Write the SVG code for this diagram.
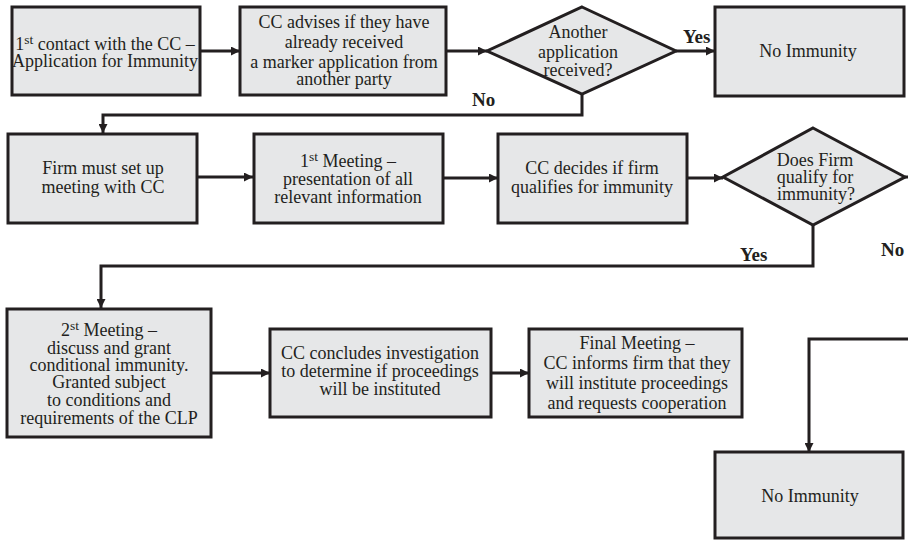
<svg xmlns="http://www.w3.org/2000/svg" width="908" height="540" viewBox="0 0 908 540">
<defs>
<style>
.box{fill:#e6e7e8;stroke:#231f20;stroke-width:3}
.t{font-family:'Liberation Serif','Tinos','DejaVu Serif',serif;font-size:18px;fill:#231f20;text-anchor:middle}
.lbl{font-family:'Liberation Serif','Tinos','DejaVu Serif',serif;font-size:19px;font-weight:bold;fill:#231f20}
.sup{font-size:13.5px}
.c{fill:none;stroke:#231f20;stroke-width:3}
</style>
<marker id="ah" viewBox="0 0 10 10" refX="10" refY="5" markerWidth="9" markerHeight="9" markerUnits="userSpaceOnUse" orient="auto">
<path d="M0,0 L10,5 L0,10 z" fill="#231f20"/>
</marker>
</defs>
<rect width="908" height="540" fill="#ffffff"/>

<g id="connectors">
<line class="c" x1="200" y1="51" x2="240" y2="51" marker-end="url(#ah)"/>
<line class="c" x1="446" y1="51" x2="487" y2="51" marker-end="url(#ah)"/>
<line class="c" x1="676" y1="51" x2="715" y2="51" marker-end="url(#ah)"/>
<polyline class="c" points="582,94 582,115 103,115 103,133" marker-end="url(#ah)"/>
<line class="c" x1="197" y1="177" x2="253" y2="177" marker-end="url(#ah)"/>
<line class="c" x1="443" y1="178" x2="498" y2="178" marker-end="url(#ah)"/>
<line class="c" x1="687" y1="178" x2="723" y2="178" marker-end="url(#ah)"/>
<line class="c" x1="905" y1="177" x2="908" y2="177"/>
<polyline class="c" points="813,225 813,266 101,266 101,308" marker-end="url(#ah)"/>
<line class="c" x1="211" y1="373" x2="270" y2="373" marker-end="url(#ah)"/>
<line class="c" x1="491" y1="373" x2="529" y2="373" marker-end="url(#ah)"/>
<polyline class="c" points="908,339 809,339 809,452" marker-end="url(#ah)"/>
<text class="lbl" x="683" y="43">Yes</text>
<text class="lbl" x="472" y="106">No</text>
<text class="lbl" x="740" y="261">Yes</text>
<text class="lbl" x="881" y="256">No</text>
</g>

<g id="n1">
<rect class="box" x="12" y="7" width="188" height="88"/>
<text class="t" x="105" y="50">1<tspan class="sup" dy="-6">st</tspan><tspan dy="6"> contact with the CC –</tspan></text>
<text class="t" x="105" y="67">Application for Immunity</text>
</g>

<g id="n2">
<rect class="box" x="240" y="7" width="206" height="88"/>
<text class="t" x="344" y="28">CC advises if they have</text>
<text class="t" x="344" y="48">already received</text>
<text class="t" x="344" y="68">a marker application from</text>
<text class="t" x="344" y="85">another party</text>
</g>

<g id="d1">
<polygon class="box" points="582,7 676,51 582,94 487,51"/>
<text class="t" x="578" y="38">Another</text>
<text class="t" x="578" y="58">application</text>
<text class="t" x="578" y="76">received?</text>
</g>

<g id="n3">
<rect class="box" x="715" y="7" width="189" height="89"/>
<text class="t" x="808" y="57">No Immunity</text>
</g>

<g id="n4">
<rect class="box" x="8" y="134" width="189" height="89"/>
<text class="t" x="103" y="174">Firm must set up</text>
<text class="t" x="103" y="193">meeting with CC</text>
</g>

<g id="n5">
<rect class="box" x="254" y="134" width="189" height="89"/>
<text class="t" x="348" y="167">1<tspan class="sup" dy="-6">st</tspan><tspan dy="6"> Meeting –</tspan></text>
<text class="t" x="348" y="185">presentation of all</text>
<text class="t" x="348" y="203">relevant information</text>
</g>

<g id="n6">
<rect class="box" x="498" y="134" width="189" height="89"/>
<text class="t" x="592" y="174">CC decides if firm</text>
<text class="t" x="592" y="193">qualifies for immunity</text>
</g>

<g id="d2">
<polygon class="box" points="813,128 905,177 813,225 723,177"/>
<text class="t" x="815" y="166">Does Firm</text>
<text class="t" x="815" y="183">qualify for</text>
<text class="t" x="816" y="200">immunity?</text>
</g>

<g id="n7">
<rect class="box" x="7" y="309" width="204" height="128"/>
<text class="t" x="109" y="336">2<tspan class="sup" dy="-6">st</tspan><tspan dy="6"> Meeting –</tspan></text>
<text class="t" x="109" y="354">discuss and grant</text>
<text class="t" x="109" y="371">conditional immunity.</text>
<text class="t" x="109" y="388">Granted subject</text>
<text class="t" x="109" y="406">to conditions and</text>
<text class="t" x="109" y="424">requirements of the CLP</text>
</g>

<g id="n8">
<rect class="box" x="270" y="329" width="221" height="88"/>
<text class="t" x="380" y="359">CC concludes investigation</text>
<text class="t" x="380" y="377">to determine if proceedings</text>
<text class="t" x="380" y="395">will be instituted</text>
</g>

<g id="n9">
<rect class="box" x="529" y="329" width="213" height="88"/>
<text class="t" x="637" y="349">Final Meeting –</text>
<text class="t" x="637" y="369">CC informs firm that they</text>
<text class="t" x="637" y="389">will institute proceedings</text>
<text class="t" x="637" y="409">and requests cooperation</text>
</g>

<g id="n10">
<rect class="box" x="715" y="452" width="188" height="86"/>
<text class="t" x="810" y="502">No Immunity</text>
</g>
</svg>
